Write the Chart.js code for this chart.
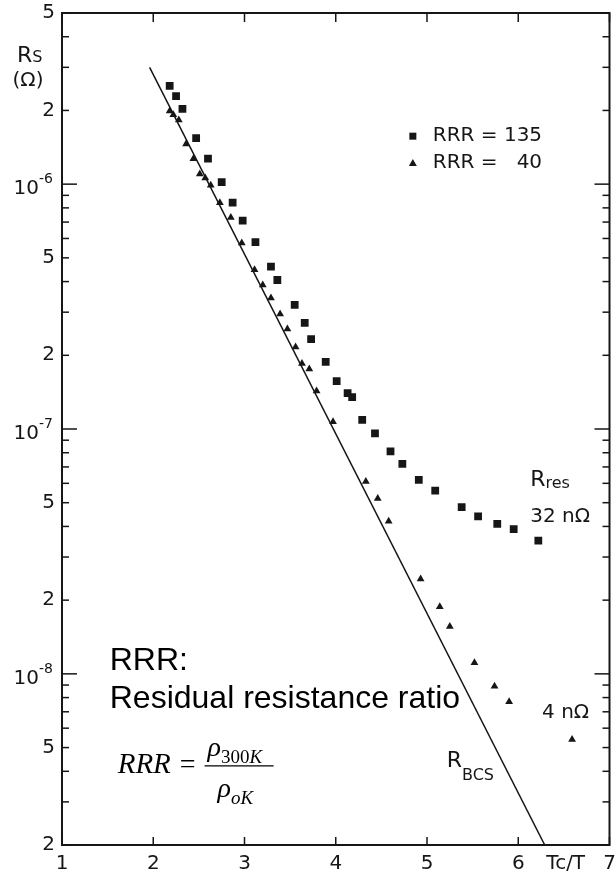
<!DOCTYPE html>
<html>
<head>
<meta charset="utf-8">
<script src="https://cdn.jsdelivr.net/npm/chart.js@4.4.1/dist/chart.umd.min.js"></script>
<style>
  html, body { margin: 0; padding: 0; background: #fff; }
</style>
</head>
<body>
<canvas id="rsChart" width="615" height="871"></canvas>
<script>
// surface resistance vs Tc/T
var tc135 = [2.18, 2.25, 2.32, 2.47, 2.60, 2.75, 2.87, 2.98, 3.12, 3.29, 3.36, 3.55, 3.66, 3.73,
             3.89, 4.01, 4.13, 4.18, 4.29, 4.43, 4.60, 4.73, 4.91, 5.09, 5.38, 5.56, 5.77, 5.95, 6.22];
var rs135 = [2.52e-6, 2.29e-6, 2.03e-6, 1.54e-6, 1.27e-6, 1.02e-6, 8.4e-7, 7.1e-7, 5.8e-7, 4.6e-7,
             4.06e-7, 3.21e-7, 2.71e-7, 2.33e-7, 1.88e-7, 1.57e-7, 1.40e-7, 1.35e-7, 1.09e-7, 9.6e-8,
             8.1e-8, 7.2e-8, 6.2e-8, 5.6e-8, 4.8e-8, 4.4e-8, 4.1e-8, 3.9e-8, 3.5e-8];

var tc40 = [2.18, 2.22, 2.28, 2.36, 2.44, 2.51, 2.57, 2.63, 2.73, 2.85, 2.97, 3.11, 3.20, 3.29,
            3.39, 3.47, 3.56, 3.63, 3.71, 3.79, 3.97, 4.33, 4.46, 4.58, 4.93, 5.14, 5.25, 5.52,
            5.74, 5.90, 6.59];
var rs40 = [1.99e-6, 1.92e-6, 1.83e-6, 1.46e-6, 1.27e-6, 1.10e-6, 1.06e-6, 9.9e-7, 8.4e-7, 7.3e-7,
            5.75e-7, 4.47e-7, 3.87e-7, 3.43e-7, 2.95e-7, 2.56e-7, 2.16e-7, 1.85e-7, 1.76e-7, 1.43e-7,
            1.07e-7, 6.1e-8, 5.2e-8, 4.2e-8, 2.44e-8, 1.88e-8, 1.56e-8, 1.11e-8, 8.9e-9, 7.7e-9, 5.4e-9];

// BCS straight line (exponential on the log axis)
var tcBcs = [1.96, 6.29];
var rsBcs = [3.0e-6, 2.0e-9];

var xTickVals = [1, 2, 3, 4, 5, 6, 7];
var xTickText = ['1', '2', '3', '4', '5', '6', '7'];
var yLabelVals = [5e-6, 2e-6, 1e-6, 5e-7, 2e-7, 1e-7, 5e-8, 2e-8, 1e-8, 5e-9, 2e-9];
var yLabelText = ['5', '2', '10^-6', '5', '2', '10^-7', '5', '2', '10^-8', '5', '2'];
var legendText = ['RRR = 135', 'RRR =   40'];

var ink = '#161616';
var dv = '"DejaVu Sans", sans-serif';

function pts(xs, ys) {
    return xs.map(function (x, i) { return {x: x, y: ys[i]}; });
}

function txt(ctx, s, x, y, font, align, base) {
    ctx.font = font;
    ctx.textAlign = align || 'left';
    ctx.textBaseline = base || 'alphabetic';
    ctx.fillText(s, x, y);
    return ctx.measureText(s).width;
}

function line(ctx, x1, y1, x2, y2) {
    ctx.beginPath();
    ctx.moveTo(x1, y1);
    ctx.lineTo(x2, y2);
    ctx.stroke();
}

var paperAxes = {
    id: 'paperAxes',
    afterDraw: function (chart) {
        var ctx = chart.ctx, a = chart.chartArea;
        var sx = chart.scales.x, sy = chart.scales.y;
        ctx.save();
        ctx.strokeStyle = ink;
        ctx.fillStyle = ink;

        // frame
        ctx.lineWidth = 2;
        ctx.strokeRect(a.left, a.top, a.right - a.left, a.bottom - a.top);

        // log ticks on left and right
        ctx.lineWidth = 1.5;
        for (var e = -9; e <= -6; e++) {
            for (var m = 1; m <= 9; m++) {
                var v = m * Math.pow(10, e);
                if (v < sy.min * 0.999 || v > sy.max * 1.001) continue;
                var y = sy.getPixelForValue(v);
                var len = (m === 1) ? 15 : 7;
                line(ctx, a.left, y, a.left + len, y);
                line(ctx, a.right, y, a.right - len, y);
            }
        }
        // linear ticks top and bottom
        xTickVals.forEach(function (t) {
            var x = sx.getPixelForValue(t);
            line(ctx, x, a.bottom, x, a.bottom - 8);
            line(ctx, x, a.top, x, a.top + 9);
        });

        // y labels
        yLabelVals.forEach(function (v, i) {
            var y = sy.getPixelForValue(v);
            var s = yLabelText[i];
            if (s.indexOf('^') > 0) {
                var p = s.split('^');
                ctx.font = '14px ' + dv;
                var we = ctx.measureText(p[1]).width;
                txt(ctx, p[1], a.left - 9, y - 1, '14px ' + dv, 'right', 'alphabetic');
                txt(ctx, p[0], a.left - 9 - we, y + 5, '20px ' + dv, 'right', 'middle');
            } else {
                txt(ctx, s, a.left - 7, y, '20px ' + dv, 'right', 'middle');
            }
        });

        // x labels
        xTickVals.forEach(function (t, i) {
            txt(ctx, xTickText[i], sx.getPixelForValue(t), a.bottom + 9, '20px ' + dv, 'center', 'top');
        });
        txt(ctx, 'Tc/T', sx.getPixelForValue(6.52), a.bottom + 9, '20px ' + dv, 'center', 'top');

        // y title R_S (Ohm)
        var w = txt(ctx, 'R', 17, 62, '22px ' + dv);
        txt(ctx, 'S', 17 + w, 62, '16px ' + dv);
        txt(ctx, '(\u03A9)', 28, 86, '20px ' + dv, 'center');

        // legend
        var lx = sx.getPixelForValue(4.845), tx = sx.getPixelForValue(5.063);
        var ly1 = sy.getPixelForValue(1.57e-6), ly2 = sy.getPixelForValue(1.22e-6);
        ctx.fillRect(lx - 3.5, ly1 - 3.5, 7, 7);
        ctx.beginPath();
        ctx.moveTo(lx, ly2 - 4);
        ctx.lineTo(lx + 4, ly2 + 3);
        ctx.lineTo(lx - 4, ly2 + 3);
        ctx.closePath();
        ctx.fill();
        txt(ctx, legendText[0], tx, ly1, '20px ' + dv, 'left', 'middle');
        txt(ctx, legendText[1], tx, ly2, '20px ' + dv, 'left', 'middle');

        // R_res 32 nOhm
        var rx = sx.getPixelForValue(6.131), ry = sy.getPixelForValue(5.86e-8);
        w = txt(ctx, 'R', rx, ry, '22px ' + dv);
        txt(ctx, 'res', rx + w, ry + 2, '16px ' + dv);
        txt(ctx, '32 n\u03A9', rx, sy.getPixelForValue(4.18e-8), '20px ' + dv);
        txt(ctx, '4 n\u03A9', sx.getPixelForValue(6.261), sy.getPixelForValue(6.6e-9), '20px ' + dv);

        // R_BCS
        var bx = sx.getPixelForValue(5.216), by = sy.getPixelForValue(4.17e-9);
        w = txt(ctx, 'R', bx, by, '22px ' + dv);
        txt(ctx, 'BCS', bx + w, by + 13, '16px ' + dv);

        // RRR note
        ctx.fillStyle = '#000';
        var nx = sx.getPixelForValue(1.523);
        txt(ctx, 'RRR:', nx, sy.getPixelForValue(1.04e-8), '32px "Liberation Sans", Arial, sans-serif');
        txt(ctx, 'Residual resistance ratio', nx, sy.getPixelForValue(7.26e-9), '32px "Liberation Sans", Arial, sans-serif');

        // RRR = rho_300K / rho_oK
        var serif = '"Liberation Serif", "Times New Roman", serif';
        var fx = sx.getPixelForValue(1.61), fy = sy.getPixelForValue(3.94e-9);
        w = txt(ctx, 'RRR', fx, fy, 'italic 29px ' + serif);
        var eqx = fx + w + 9;
        var we2 = txt(ctx, '=', eqx, fy, '28px ' + serif);
        var barL = eqx + we2 + 9, barR = barL + 69;
        ctx.lineWidth = 1.3;
        ctx.strokeStyle = '#000';
        line(ctx, barL, fy - 7, barR, fy - 7);
        var wr = txt(ctx, '\u03C1', barL + 3, fy - 17, 'italic 28px ' + serif);
        var w3 = txt(ctx, '300', barL + 3 + wr, fy - 10, '19px ' + serif);
        txt(ctx, 'K', barL + 3 + wr + w3, fy - 10, 'italic 19px ' + serif);
        wr = txt(ctx, '\u03C1', barL + 13, fy + 24, 'italic 28px ' + serif);
        txt(ctx, 'oK', barL + 13 + wr, fy + 31, 'italic 19px ' + serif);

        ctx.restore();
    }
};

var chart = new Chart(document.getElementById('rsChart'), {
    type: 'scatter',
    data: {
        datasets: [
            {
                label: legendText[0],
                data: pts(tc135, rs135),
                pointStyle: 'rect',
                pointRadius: 5.5,
                backgroundColor: ink,
                borderColor: ink,
                borderWidth: 0
            },
            {
                label: legendText[1],
                data: pts(tc40, rs40),
                pointStyle: 'triangle',
                pointRadius: 4.5,
                backgroundColor: ink,
                borderColor: ink,
                borderWidth: 0
            },
            {
                label: 'R BCS',
                data: pts(tcBcs, rsBcs),
                showLine: true,
                pointRadius: 0,
                borderColor: ink,
                borderWidth: 1.5
            }
        ]
    },
    options: {
        responsive: false,
        devicePixelRatio: 1,
        animation: false,
        layout: { padding: { left: 62, right: 2, top: 13, bottom: 26 } },
        plugins: { legend: { display: false }, tooltip: { enabled: false } },
        scales: {
            x: { type: 'linear', min: 1, max: 7, display: false },
            y: { type: 'logarithmic', min: 2e-9, max: 5e-6, display: false }
        }
    },
    plugins: [paperAxes]
});
</script>
</body>
</html>
